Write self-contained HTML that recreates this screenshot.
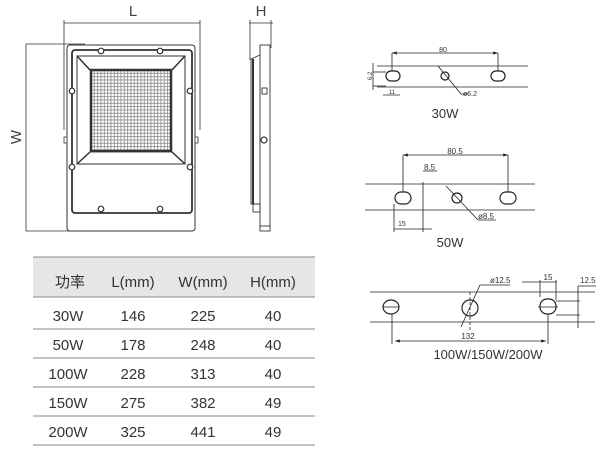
<!DOCTYPE html>
<html><head><meta charset="utf-8"><style>
html,body{margin:0;padding:0;background:#fff;}
svg{display:block;font-family:"Liberation Sans","Noto Sans CJK SC",sans-serif;}
</style></head><body>
<svg width="602" height="451" viewBox="0 0 602 451" xmlns="http://www.w3.org/2000/svg">
<defs>
<pattern id="led" x="91" y="70" width="3.33" height="3.33" patternUnits="userSpaceOnUse">
<rect width="3.33" height="3.33" fill="#8a8a8a"/>
<rect x="0.4" y="0.4" width="2.5" height="2.5" fill="#fff"/>
</pattern>
<marker id="ar" markerWidth="6" markerHeight="4" refX="6" refY="2" orient="auto-start-reverse"><path d="M0,0L6,2L0,4z" fill="#222"/></marker>
</defs>
<g stroke="#333" fill="none" stroke-width="0.8">
<line x1="64" y1="23" x2="200" y2="23"/>
<line x1="64" y1="20" x2="64" y2="130"/><line x1="200" y1="20" x2="200" y2="130"/>
<line x1="26" y1="44" x2="26" y2="231"/>
<line x1="26" y1="44" x2="85" y2="44"/><line x1="26" y1="231" x2="70" y2="231"/>
<line x1="249" y1="23" x2="273" y2="23"/>
<line x1="250" y1="20" x2="250" y2="60"/><line x1="271" y1="20" x2="271" y2="48"/>
</g>
<text x="133" y="16" font-size="15" text-anchor="middle" fill="#444">L</text>
<text x="261" y="16" font-size="15" text-anchor="middle" fill="#444">H</text>
<text transform="translate(21,137) rotate(-90)" font-size="15" text-anchor="middle" fill="#444">W</text>
<g stroke="#333" fill="none">
<rect x="67" y="45" width="128" height="186" rx="3" stroke-width="1"/>
<rect x="72" y="50" width="120" height="163" rx="3" stroke-width="1.8"/>
<rect x="77" y="56" width="108" height="108" stroke-width="1"/>
<polygon points="77,56 185,56 172,70 90,70" stroke-width="0.8"/>
<polygon points="77,164 185,164 172,152 90,152" stroke-width="0.8"/>
<line x1="77" y1="56" x2="90" y2="70" stroke-width="1.5"/>
<line x1="185" y1="56" x2="172" y2="70" stroke-width="1.5"/>
<line x1="77" y1="164" x2="90" y2="152" stroke-width="1.5"/>
<line x1="185" y1="164" x2="172" y2="152" stroke-width="1.5"/>
</g>
<rect x="91" y="70" width="80" height="81" fill="url(#led)" stroke="#333" stroke-width="2.5"/>
<g fill="#fff" stroke="#333" stroke-width="1.2">
<circle cx="101" cy="51" r="2.8"/><circle cx="160" cy="51" r="2.8"/>
<circle cx="72" cy="91" r="2.8"/><circle cx="190" cy="91" r="2.8"/>
<circle cx="72" cy="167" r="2.8"/><circle cx="190" cy="167" r="2.8"/>
<circle cx="101" cy="209" r="2.8"/><circle cx="160" cy="209" r="2.8"/>
</g>
<rect x="64" y="137" width="3" height="6" fill="#fff" stroke="#333" stroke-width="0.8"/>
<rect x="195" y="137" width="3" height="6" fill="#fff" stroke="#333" stroke-width="0.8"/>
<g stroke="#333" fill="none" stroke-width="0.9">
<rect x="260" y="45" width="10" height="186"/>
<polyline points="260,55 251,59 251,204 260,204"/>
<line x1="253" y1="59" x2="253" y2="204" stroke-width="2"/>
<rect x="262" y="88" width="5" height="6" fill="#fff"/>
<circle cx="264" cy="140" r="3" fill="#fff" stroke-width="1.2"/>
<rect x="253" y="204" width="7" height="8"/>
<line x1="260" y1="226" x2="270" y2="226"/>
</g>
<g stroke="#222" fill="none" stroke-width="0.8">
<line x1="377" y1="66" x2="528" y2="66"/><line x1="377" y1="87" x2="528" y2="87"/>
<rect x="386" y="71" width="14" height="10" rx="5" stroke-width="1.2"/>
<rect x="491" y="71" width="14" height="10" rx="5" stroke-width="1.2"/>
<circle cx="445" cy="76" r="4" stroke-width="1.2"/>
<line x1="392" y1="53" x2="498" y2="53" marker-start="url(#ar)" marker-end="url(#ar)"/>
<line x1="392" y1="53" x2="392" y2="71"/><line x1="498" y1="53" x2="498" y2="71"/>
<line x1="438" y1="66" x2="461" y2="94"/><line x1="461" y1="94" x2="468" y2="94"/>
<line x1="373" y1="63" x2="373" y2="90"/><line x1="373" y1="72" x2="386" y2="72"/><line x1="373" y1="86" x2="386" y2="86"/>
<line x1="383" y1="95" x2="400" y2="95"/>
</g>
<text x="443" y="52" font-size="7" fill="#333" text-anchor="middle">80</text>
<text x="463" y="96" font-size="7" fill="#333">ø6.2</text>
<text x="389" y="94" font-size="6" fill="#333">11</text>
<text transform="translate(372,80) rotate(-90)" font-size="6" fill="#333">6.2</text>
<text x="445" y="118" font-size="13" fill="#333" text-anchor="middle">30W</text>
<g stroke="#222" fill="none" stroke-width="0.8">
<line x1="365" y1="184" x2="535" y2="184"/><line x1="365" y1="210" x2="535" y2="210"/>
<rect x="395" y="192" width="16" height="12" rx="6" stroke-width="1.2"/>
<rect x="500" y="192" width="16" height="12" rx="6" stroke-width="1.2"/>
<circle cx="457" cy="198" r="5" stroke-width="1.2"/>
<line x1="403" y1="155" x2="508" y2="155" marker-start="url(#ar)" marker-end="url(#ar)"/>
<line x1="403" y1="155" x2="403" y2="192"/><line x1="508" y1="155" x2="508" y2="192"/>
<line x1="446" y1="186" x2="478" y2="220"/><line x1="478" y1="220" x2="496" y2="220"/>
<line x1="423" y1="182" x2="423" y2="213"/><line x1="423" y1="171" x2="437" y2="171"/>
<line x1="394" y1="229" x2="432" y2="229"/><line x1="394" y1="204" x2="394" y2="232"/><line x1="423" y1="213" x2="423" y2="232"/>
</g>
<text x="455" y="154" font-size="8" fill="#333" text-anchor="middle">80.5</text>
<text x="424" y="170" font-size="8" fill="#333">8.5</text>
<text x="478" y="219" font-size="8" fill="#333">ø8.5</text>
<text x="398" y="226" font-size="7" fill="#333">15</text>
<text x="450" y="247" font-size="13" fill="#333" text-anchor="middle">50W</text>
<g stroke="#222" fill="none" stroke-width="0.8">
<line x1="370" y1="292" x2="595" y2="292"/><line x1="370" y1="322" x2="595" y2="322"/>
<ellipse cx="391" cy="307" rx="8" ry="7" stroke-width="1.2"/>
<line x1="383" y1="307" x2="399" y2="307"/>
<circle cx="470" cy="308" r="8" stroke-width="1.2"/>
<rect x="540" y="299" width="16" height="15" rx="7" stroke-width="1.2"/>
<line x1="538" y1="307" x2="558" y2="307"/>
<line x1="392" y1="314" x2="392" y2="344"/><line x1="548" y1="314" x2="548" y2="344"/>
<line x1="395" y1="341" x2="546" y2="341" marker-start="url(#ar)" marker-end="url(#ar)"/>
<line x1="461" y1="327" x2="480" y2="285"/><line x1="480" y1="285" x2="510" y2="285"/>
<line x1="470" y1="292" x2="470" y2="330" stroke-dasharray="3,2"/>
<line x1="522" y1="282" x2="557" y2="282"/>
<line x1="540" y1="280" x2="540" y2="297"/><line x1="556" y1="280" x2="556" y2="300"/>
<line x1="556" y1="301" x2="580" y2="301"/><line x1="556" y1="315" x2="580" y2="315"/>
<line x1="578" y1="286" x2="578" y2="328"/><line x1="578" y1="286" x2="596" y2="286"/>
</g>
<text x="468" y="339" font-size="8" fill="#333" text-anchor="middle">132</text>
<text x="490" y="283" font-size="8" fill="#333">ø12.5</text>
<text x="548" y="280" font-size="8" fill="#333" text-anchor="middle">15</text>
<text x="580" y="283" font-size="8" fill="#333">12.5</text>
<text x="488" y="359" font-size="13" fill="#333" text-anchor="middle">100W/150W/200W</text>
<rect x="33" y="257" width="282" height="40" fill="#e6e6e6"/>
<g stroke="#888" stroke-width="1">
<line x1="33" y1="257" x2="315" y2="257"/>
<line x1="33" y1="297" x2="315" y2="297"/>
<line x1="33" y1="329" x2="315" y2="329"/>
<line x1="33" y1="358" x2="315" y2="358"/>
<line x1="33" y1="387" x2="315" y2="387"/>
<line x1="33" y1="416" x2="315" y2="416"/>
<line x1="33" y1="445" x2="315" y2="445"/>
</g>
<g font-size="15" fill="#333" text-anchor="middle">
<text x="70" y="287">功率</text><text x="133" y="287">L(mm)</text><text x="203" y="287">W(mm)</text><text x="273" y="287">H(mm)</text>
<text x="68" y="321">30W</text><text x="133" y="321">146</text><text x="203" y="321">225</text><text x="273" y="321">40</text>
<text x="68" y="350">50W</text><text x="133" y="350">178</text><text x="203" y="350">248</text><text x="273" y="350">40</text>
<text x="68" y="379">100W</text><text x="133" y="379">228</text><text x="203" y="379">313</text><text x="273" y="379">40</text>
<text x="68" y="408">150W</text><text x="133" y="408">275</text><text x="203" y="408">382</text><text x="273" y="408">49</text>
<text x="68" y="437">200W</text><text x="133" y="437">325</text><text x="203" y="437">441</text><text x="273" y="437">49</text>
</g>
</svg>
</body></html>
